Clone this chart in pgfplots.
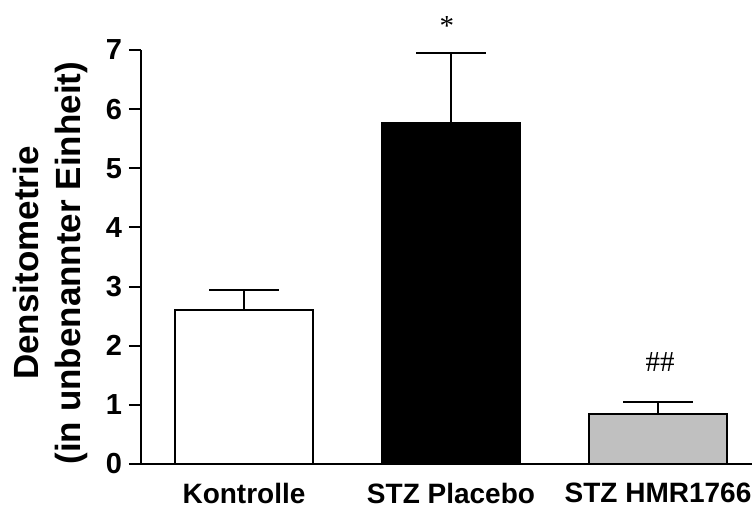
\documentclass[border=0pt]{standalone}
\usepackage{fontspec}
\setmainfont{Liberation Sans}
\newfontfamily\seriffont{Liberation Serif}
\usepackage{pgfplots}
\pgfplotsset{compat=1.18}
\begin{document}
\begin{tikzpicture}
\begin{axis}[name=ax, scale only axis, width=305.5pt, height=207pt,
  xmin=-0.4976, xmax=2.454, ymin=0, ymax=7,
  axis x line=bottom, axis y line=left,
  axis line style={-, line width=1pt, black},
  ytick={0,1,2,3,4,5,6,7},
  xtick={0,1,2}, xticklabels={Kontrolle, STZ Placebo, STZ HMR1766},
  x tick style={draw=none},
  y tick style={line width=1pt, black},
  tick align=outside, major tick length=6pt,
  /pgf/number format/assume math mode=true,
  yticklabel style={font=\fontsize{14.5}{16}\selectfont\bfseries},
  xticklabel style={font=\fontsize{14}{16}\selectfont\bfseries, inner sep=0pt, yshift=-3.2pt},
  ylabel={Densitometrie\\(in unbenannter Einheit)},
  every axis y label/.style={at={(axis description cs:-0.149,0.485)}, rotate=90, anchor=center, align=center, font=\fontsize{17.5}{21}\selectfont\bfseries},
  clip=false,
  error bars/y dir=plus, error bars/y explicit,
  error bars/error bar style={line width=1pt, black},
  error bars/error mark options={rotate=90, mark size=17.5pt, line width=1pt, black},
]
\addplot[ybar, bar width=69pt, bar shift=0pt, fill=white, draw=black, line width=1pt] coordinates {(0,2.60) +- (0,0.34)};
\addplot[ybar, bar width=69pt, bar shift=0pt, fill=black, draw=black, line width=1pt] coordinates {(1,5.77) +- (0,1.18)};
\addplot[ybar, bar width=69pt, bar shift=0pt, fill={rgb,255:red,192;green,192;blue,192}, draw=black, line width=1pt] coordinates {(2,0.845) +- (0,0.205)};
\node[font=\fontsize{14.5}{16}\seriffont, anchor=base] at (axis cs:0.98,7.25) {*};
\node[font=\fontsize{14.5}{16}\seriffont, anchor=base] at (axis cs:2.01,1.556) {\#\#};
\end{axis}
\pgfresetboundingbox
\useasboundingbox ([xshift=-70.5pt,yshift=-21pt]ax.south west) rectangle ([yshift=25pt]ax.north east);
\end{tikzpicture}
\end{document}
